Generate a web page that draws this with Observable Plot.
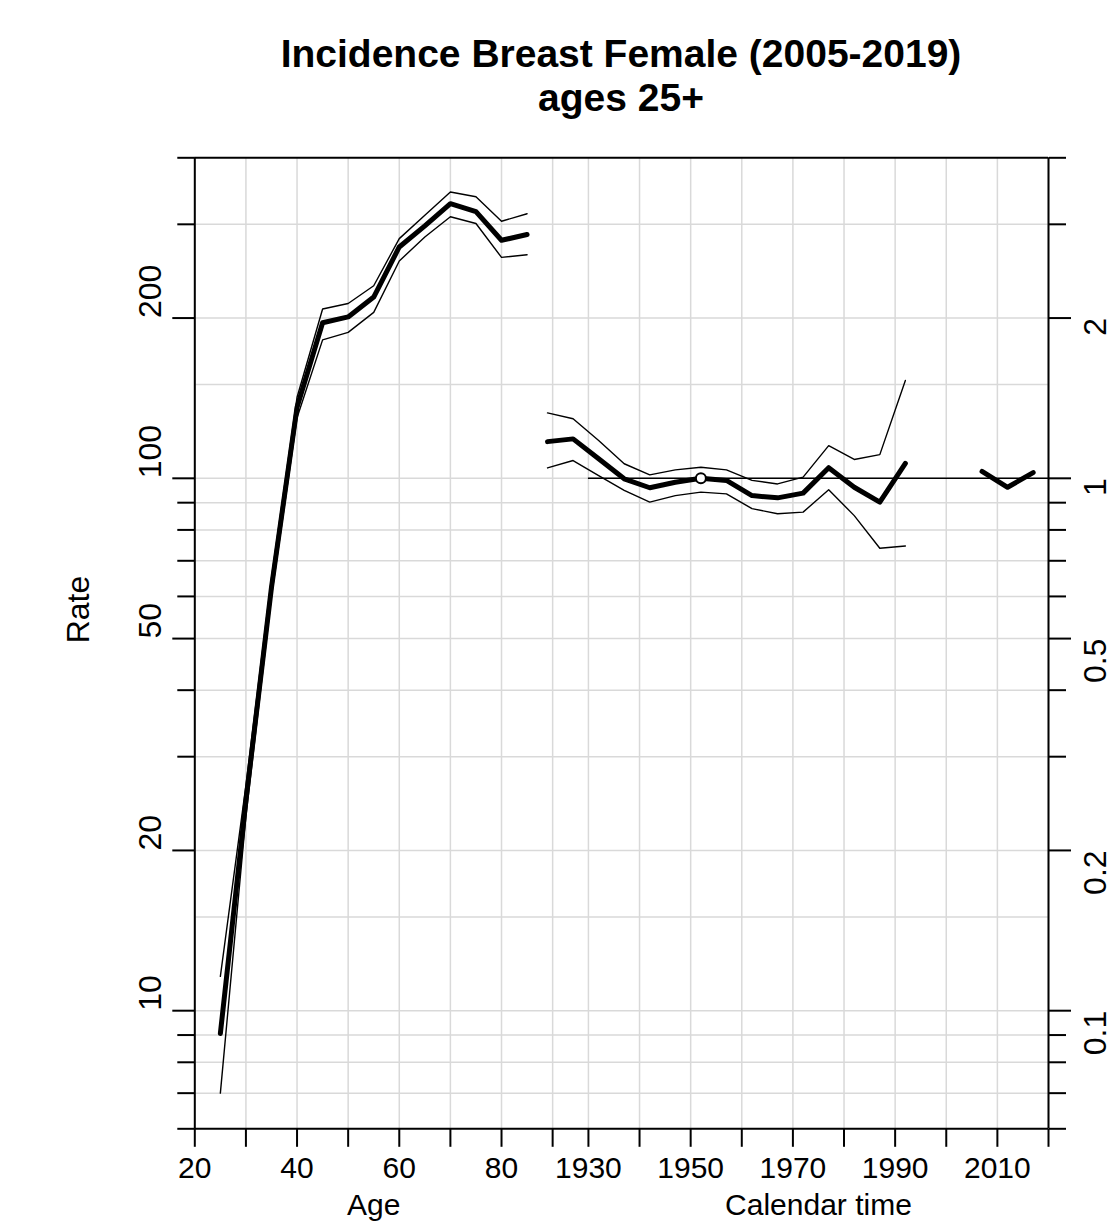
<!DOCTYPE html>
<html><head><meta charset="utf-8">
<script src="https://cdn.jsdelivr.net/npm/d3@7"></script>
<script src="https://cdn.jsdelivr.net/npm/@observablehq/plot@0.6"></script>
<style>
body{margin:0;background:#fff;}
#title{width:1115px;height:140px;box-sizing:border-box;padding-top:32px;padding-left:127px;text-align:center;font:bold 39px/44px "Liberation Sans",Arial,sans-serif;color:#000;}
</style></head><body>
<div id="title"><div>Incidence Breast Female (2005-2019)</div><div>ages 25+</div></div>
<div id="chart"></div>
<script>
// ---- data ----
const ages    = [25, 30, 35, 40, 45, 50, 55, 60, 65, 70, 75, 80, 85];
const ageRate = [9.06, 24.8, 62.4, 136, 196, 201, 219, 272, 298, 328, 317, 280, 287];
const ageLo   = [7.0, 23.2, 60, 130, 182, 188, 205, 256, 284, 310, 301, 260, 263];
const ageHi   = [11.6, 26.5, 65, 142, 208, 213, 230, 282, 312, 345, 338, 304, 314];

const cohorts = [1922,1927,1932,1937,1942,1947,1952,1957,1962,1967,1972,1977,1982,1987,1992];
const cohRR   = [1.172,1.186,1.088,0.998,0.960,0.983,1.000,0.991,0.928,0.919,0.938,1.047,0.962,0.902,1.067];
const cohLo   = [1.046,1.080,1.012,0.949,0.902,0.928,0.942,0.935,0.877,0.858,0.864,0.952,0.851,0.739,0.746];
const cohHi   = [1.327,1.294,1.178,1.065,1.015,1.037,1.049,1.037,0.991,0.976,1.005,1.152,1.085,1.108,1.527];
const refCohort = 1952;

const periods = [2007, 2012, 2017];
const perRR   = [1.030, 0.962, 1.025];

// axes
const ageTicks  = [20, 30, 40, 50, 60, 70, 80, 90];
const ageLabels = [20, 40, 60, 80];
const calTicks  = [1930, 1940, 1950, 1960, 1970, 1980, 1990, 2000, 2010, 2020];
const calLabels = [1930, 1950, 1970, 1990, 2010];
const rLabels   = [10, 20, 50, 100, 200];
const rMinor    = [6, 7, 8, 9, 30, 40, 60, 70, 80, 90, 300, 400];
const rGrid     = [7, 8, 9, 10, 15, 20, 30, 40, 50, 60, 70, 80, 90, 100, 150, 200, 300];
const rrLabels  = ["0.1", "0.2", "0.5", "1", "2"];
const RR_REF = 100;
const OFFSET = 1833;  // calendar year -> age-axis units (gap between the two panels)

const calX = c => c - OFFSET;
const xTicks = [...ageTicks, ...calTicks.map(calX)];
const xFmt = d => {
  if (d <= 90) return ageLabels.includes(d) ? String(d) : "";
  const c = d + OFFSET;
  return calLabels.includes(c) ? String(c) : "";
};

const LW = 2;
const chart = Plot.plot({
  width: 1115,
  height: 1081,
  marginTop: 17.3,
  marginBottom: 92.7,
  marginLeft: 194.3,
  marginRight: 67,
  style: {fontFamily: "'Liberation Sans', Arial, sans-serif", fontSize: "32px", color: "black", background: "white", overflow: "visible"},
  x: {domain: [ageTicks[0], calX(calTicks[calTicks.length - 1])], axis: null},
  y: {type: "log", domain: [rMinor[0], rMinor[rMinor.length - 1]], axis: null},
  marks: [
    // grid
    Plot.ruleX(xTicks, {stroke: "#d9d9d9", strokeWidth: 1.5}),
    Plot.ruleY(rGrid, {stroke: "#d9d9d9", strokeWidth: 1.5}),
    // reference line RR = 1
    Plot.ruleY([RR_REF], {x1: calX(calTicks[0]), x2: calX(calTicks[calTicks.length - 1]), stroke: "black", strokeWidth: 1.5}),
    // frame
    Plot.ruleY([rMinor[0], rMinor[rMinor.length - 1]], {stroke: "black", strokeWidth: LW}),
    Plot.ruleX([ageTicks[0], calX(calTicks[calTicks.length - 1])], {stroke: "black", strokeWidth: LW}),
    // y ticks
    Plot.axisY(rMinor, {anchor: "left", tickSize: 17, tickFormat: () => "", strokeWidth: LW, label: null}),
    Plot.axisY(rLabels, {anchor: "left", tickSize: 22, tickFormat: () => "", strokeWidth: LW, label: null}),
    Plot.axisY(rMinor, {anchor: "right", tickSize: 17, tickFormat: () => "", strokeWidth: LW, label: null}),
    Plot.axisY(rLabels, {anchor: "right", tickSize: 22, tickFormat: () => "", strokeWidth: LW, label: null}),
    // x axis
    Plot.axisX(xTicks, {anchor: "bottom", tickSize: 18.5, tickPadding: 9, tickFormat: xFmt, fontSize: 30, strokeWidth: LW, label: null}),
    // y labels
    Plot.text(rLabels, {y: d => d, text: d => String(d), frameAnchor: "left", dx: -44, rotate: -90, fontSize: 32, fill: "black"}),
    Plot.text(rrLabels, {y: d => +d * RR_REF, text: d => d, frameAnchor: "right", dx: 47, rotate: -90, fontSize: 32, fill: "black"}),
    Plot.text(["Rate"], {text: d => d, frameAnchor: "left", dx: -116, rotate: -90, fontSize: 32, fill: "black"}),
    Plot.text(["Age"], {x: (ageTicks[0] + ageTicks[ageTicks.length - 1]) / 2, text: d => d, frameAnchor: "bottom", lineAnchor: "bottom", dy: 85.7, fontSize: 30, fill: "black"}),
    Plot.text(["Calendar time"], {x: calX((calTicks[0] + calTicks[calTicks.length - 1]) / 2), text: d => d, frameAnchor: "bottom", lineAnchor: "bottom", dy: 85.7, fontSize: 30, fill: "black"}),
    // age effect
    Plot.line(ages, {x: d => d, y: (d, i) => ageLo[i], stroke: "black", strokeWidth: 1.4}),
    Plot.line(ages, {x: d => d, y: (d, i) => ageHi[i], stroke: "black", strokeWidth: 1.4}),
    Plot.line(ages, {x: d => d, y: (d, i) => ageRate[i], stroke: "black", strokeWidth: 5}),
    // cohort effect
    Plot.line(cohorts, {x: calX, y: (d, i) => cohLo[i] * RR_REF, stroke: "black", strokeWidth: 1.4}),
    Plot.line(cohorts, {x: calX, y: (d, i) => cohHi[i] * RR_REF, stroke: "black", strokeWidth: 1.4}),
    Plot.line(cohorts, {x: calX, y: (d, i) => cohRR[i] * RR_REF, stroke: "black", strokeWidth: 5}),
    Plot.dot([refCohort], {x: calX, y: () => RR_REF, r: 5, fill: "white", stroke: "black", strokeWidth: 2}),
    // period effect
    Plot.line(periods, {x: calX, y: (d, i) => perRR[i] * RR_REF, stroke: "black", strokeWidth: 5})
  ]
});
document.getElementById("chart").appendChild(chart);
</script>
</body></html>
